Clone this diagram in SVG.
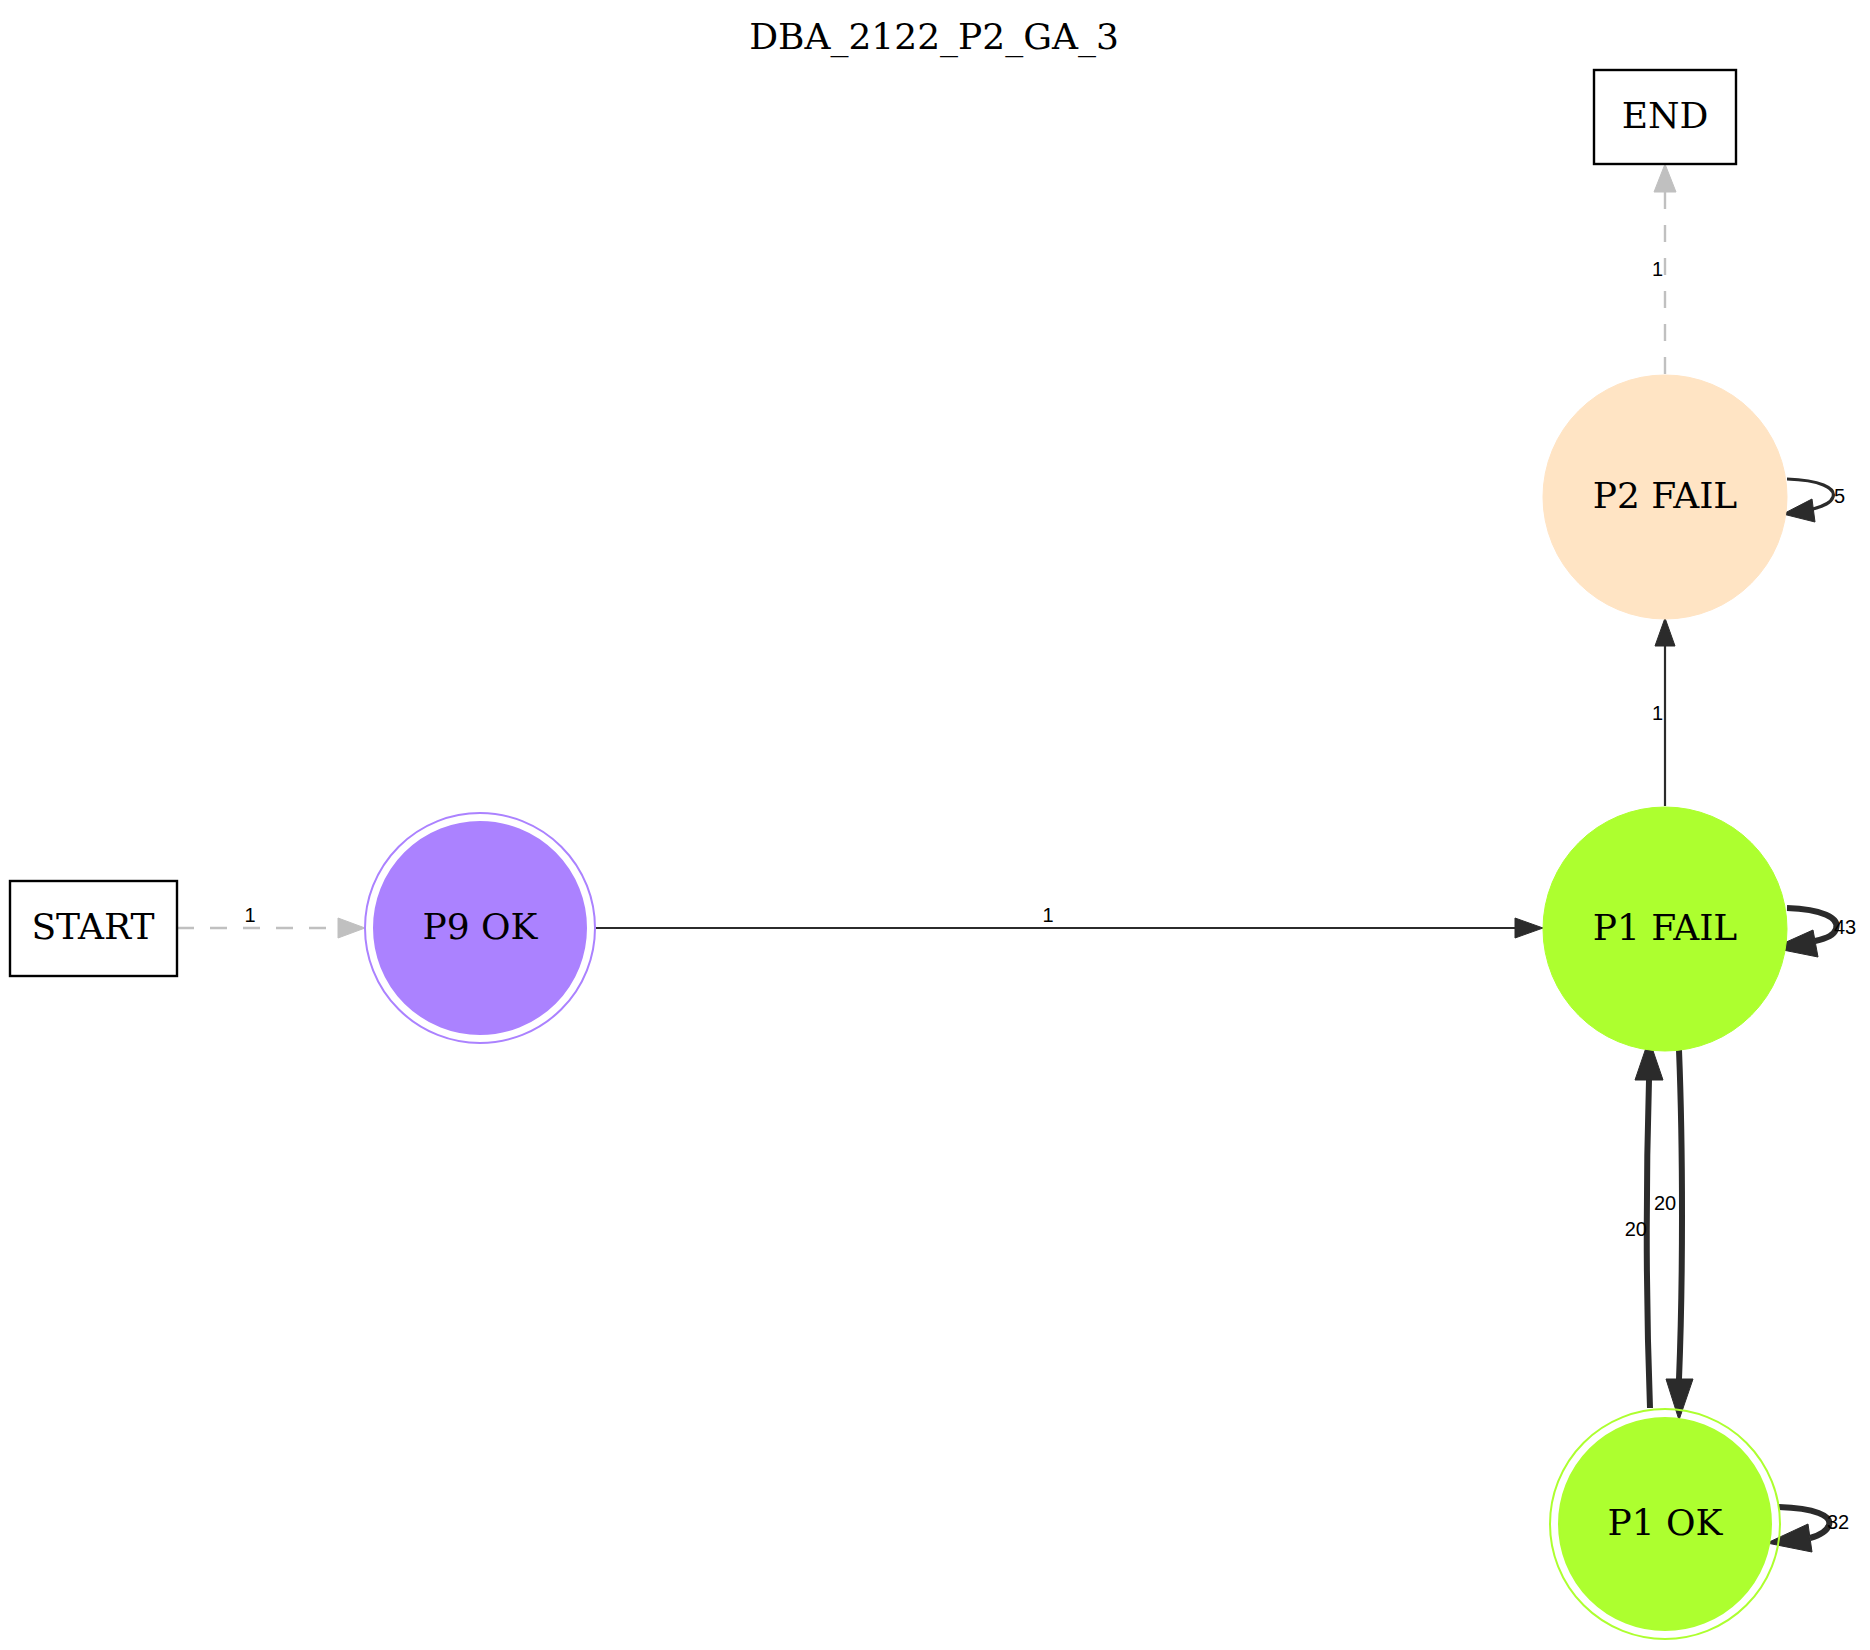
<svg xmlns="http://www.w3.org/2000/svg" width="1870" height="1650" viewBox="0 0 1870 1650">
<style>
.lbl{font-family:"DejaVu Serif","Liberation Serif",serif;font-size:36px;fill:#000;text-anchor:middle}
.el{font-family:"Liberation Sans","DejaVu Sans",Arial,sans-serif;font-size:20px;fill:#000}
.dark{fill:none;stroke:#2b2b2b}
.darkhead{fill:#2b2b2b;stroke:#2b2b2b}
.gray{fill:none;stroke:#c0c0c0;stroke-width:2.4;stroke-dasharray:17 16}
.grayhead{fill:#c0c0c0;stroke:#c0c0c0}
.box{fill:#fff;stroke:#000;stroke-width:2.4}
</style>
<rect width="1870" height="1650" fill="#fff"/>
<text class="lbl" x="934" y="49">DBA_2122_P2_GA_3</text>

<g id="edges">
  <g id="e-start-p9">
    <path class="gray" d="M177,928 L338,928"/>
    <polygon class="grayhead" points="365,928 338,918 338,938"/>
    <text class="el" x="250" y="922" text-anchor="middle">1</text>
  </g>
  <g id="e-p9-p1fail">
    <path class="dark" stroke-width="2.2" d="M596,928 L1515,928"/>
    <polygon class="darkhead" points="1543,928 1515,918 1515,938"/>
    <text class="el" x="1048" y="922" text-anchor="middle">1</text>
  </g>
  <g id="e-p1fail-p2fail">
    <path class="dark" stroke-width="2.2" d="M1665,806 L1665,646"/>
    <polygon class="darkhead" points="1665,618 1655,646 1675,646"/>
    <text class="el" x="1663" y="720" text-anchor="end">1</text>
  </g>
  <g id="e-p2fail-end">
    <path class="gray" d="M1665,374 L1665,192"/>
    <polygon class="grayhead" points="1665,164 1654,192 1676,192"/>
    <text class="el" x="1663" y="276" text-anchor="end">1</text>
  </g>
  <g id="e-p2fail-loop">
    <path class="dark" stroke-width="3.2" d="M1787,479 C1820,480 1836,488 1833,497 C1831,503 1824,506 1813,509"/>
    <polygon class="darkhead" points="1783,514 1812,499 1815,522"/>
    <text class="el" x="1834" y="503">5</text>
  </g>
  <g id="e-p1fail-loop">
    <path class="dark" stroke-width="6" d="M1787,908 C1822,909 1840,918 1836,929 C1834,935 1828,938 1815,941"/>
    <polygon class="darkhead" points="1773,948 1813,930 1818,957"/>
    <text class="el" x="1834" y="934">43</text>
  </g>
  <g id="e-p1ok-p1fail">
    <path class="dark" stroke-width="6" d="M1650,1408 C1646,1300 1646,1180 1649,1080"/>
    <polygon class="darkhead" points="1649,1039 1635,1080 1663,1080"/>
    <text class="el" x="1647" y="1236" text-anchor="end">20</text>
  </g>
  <g id="e-p1fail-p1ok">
    <path class="dark" stroke-width="6" d="M1679,1050 C1683,1150 1683,1280 1679,1379"/>
    <polygon class="darkhead" points="1679,1420 1666,1379 1693,1379"/>
    <text class="el" x="1654" y="1210">20</text>
  </g>
  <g id="e-p1ok-loop">
    <path class="dark" stroke-width="6" d="M1779,1507 C1815,1508 1832,1516 1829,1525 C1827,1531 1821,1535 1810,1538"/>
    <polygon class="darkhead" points="1767,1543 1808,1524 1812,1552"/>
    <text class="el" x="1827" y="1529">32</text>
  </g>
</g>

<g id="node-start">
  <rect class="box" x="10" y="881" width="167" height="95"/>
  <text class="lbl" x="93" y="939">START</text>
</g>
<g id="node-end">
  <rect class="box" x="1594" y="70" width="142" height="94"/>
  <text class="lbl" x="1665" y="128">END</text>
</g>
<g id="node-p9ok">
  <circle cx="480" cy="928" r="115" fill="none" stroke="#ab82ff" stroke-width="2"/>
  <circle cx="480" cy="928" r="106" fill="#ab82ff" stroke="#ab82ff" stroke-width="2"/>
  <text class="lbl" x="480" y="939">P9 OK</text>
</g>
<g id="node-p2fail">
  <circle cx="1665" cy="497" r="122" fill="#ffe4c4" stroke="#ffe4c4" stroke-width="1"/>
  <text class="lbl" x="1665" y="508">P2 FAIL</text>
</g>
<g id="node-p1fail">
  <circle cx="1665" cy="929" r="122" fill="#adff2f" stroke="#adff2f" stroke-width="1"/>
  <text class="lbl" x="1665" y="940">P1 FAIL</text>
</g>
<g id="node-p1ok">
  <circle cx="1665" cy="1524" r="115" fill="none" stroke="#adff2f" stroke-width="2"/>
  <circle cx="1665" cy="1524" r="106" fill="#adff2f" stroke="#adff2f" stroke-width="2"/>
  <text class="lbl" x="1665" y="1535">P1 OK</text>
</g>
</svg>
